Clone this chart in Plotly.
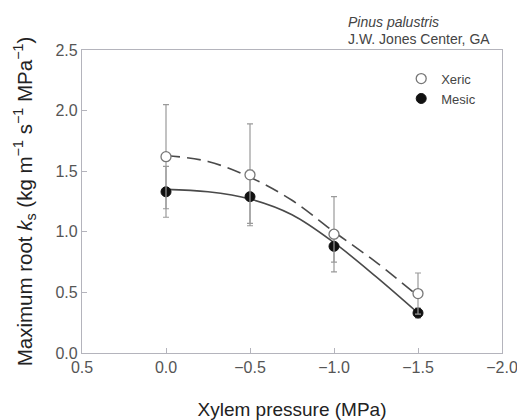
import plotly.graph_objects as go

# Observed data
pressure = [0.0, -0.5, -1.0, -1.5]
xeric = [1.62, 1.47, 0.98, 0.49]
xeric_err = [0.43, 0.42, 0.31, 0.17]
mesic = [1.33, 1.29, 0.88, 0.33]
mesic_err = [0.21, 0.22, 0.13, 0.04]

# Fitted curves
fit_x = [0.0, -0.25, -0.5, -0.75, -1.0, -1.25, -1.5]
xeric_fit = [1.63, 1.58, 1.45, 1.26, 1.00, 0.75, 0.47]
mesic_fit = [1.35, 1.33, 1.27, 1.14, 0.91, 0.63, 0.33]

x_ticks = [0.5, 0.0, -0.5, -1.0, -1.5, -2.0]
x_ticklabels = ["0.5", "0.0", "\u22120.5", "\u22121.0", "\u22121.5", "\u22122.0"]
y_ticks = [0.0, 0.5, 1.0, 1.5, 2.0, 2.5]
y_ticklabels = ["0.0", "0.5", "1.0", "1.5", "2.0", "2.5"]

FONT = "Liberation Sans, Arial, sans-serif"
LINE = "#4a4a4a"
ERR = "#9a9a9a"
FRAME = "#b4b4bc"

fig = go.Figure()

fig.add_trace(go.Scatter(x=fit_x, y=xeric_fit, mode="lines", line=dict(color=LINE, width=1.6, dash="14px,7px", shape="spline", smoothing=1.0), showlegend=False, hoverinfo="skip"))
fig.add_trace(go.Scatter(x=fit_x, y=mesic_fit, mode="lines", line=dict(color=LINE, width=1.6, shape="spline", smoothing=1.0), showlegend=False, hoverinfo="skip"))

fig.add_trace(go.Scatter(x=pressure, y=mesic, mode="markers", name="Mesic",
                         error_y=dict(type="data", array=mesic_err, color=ERR, thickness=1.2, width=3),
                         marker=dict(symbol="circle", size=10, color="#111111", line=dict(color="#111111", width=1)),
                         showlegend=False))
fig.add_trace(go.Scatter(x=pressure, y=xeric, mode="markers", name="Xeric",
                         error_y=dict(type="data", array=xeric_err, color=ERR, thickness=1.2, width=3),
                         marker=dict(symbol="circle", size=10, color="white", line=dict(color="#777777", width=1.3)),
                         showlegend=False))

# legend entries
fig.add_trace(go.Scatter(x=[None], y=[None], mode="markers", name="Xeric",
                         marker=dict(symbol="circle", size=10, color="white", line=dict(color="#777777", width=1.3))))
fig.add_trace(go.Scatter(x=[None], y=[None], mode="markers", name="Mesic",
                         marker=dict(symbol="circle", size=10, color="#111111", line=dict(color="#111111", width=1))))

axis_common = dict(showline=True, mirror=True, linecolor=FRAME, linewidth=1.2, ticks="inside",
                   tickcolor=FRAME, ticklen=5, showgrid=False, zeroline=False,
                   ticklabeloverflow="allow", automargin=False,
                   tickfont=dict(family=FONT, size=16, color="#555555"))

fig.update_xaxes(range=[0.5, -2.0], tickvals=x_ticks, ticktext=x_ticklabels,
                 title=dict(text="Xylem pressure (MPa)", font=dict(family=FONT, size=19, color="#222222"), standoff=27),
                 **axis_common)
fig.update_yaxes(range=[0, 2.5], tickvals=y_ticks, ticktext=y_ticklabels,
                 title=dict(text="Maximum root <i>k</i><sub>s</sub> (kg m<sup>\u22121</sup> s<sup>\u22121</sup> MPa<sup>\u22121</sup>)",
                            font=dict(family=FONT, size=20.5, color="#222222"), standoff=17),
                 **axis_common)

fig.add_annotation(text="<i>Pinus palustris</i>", xref="paper", yref="paper", x=(346 - 82) / 420, y=1 + (50 - 22) / 303,
                   xanchor="left", yanchor="middle", showarrow=False, font=dict(family=FONT, size=14, color="#444444"))
fig.add_annotation(text="J.W. Jones Center, GA", xref="paper", yref="paper", x=(346 - 82) / 420, y=1 + (50 - 39) / 303,
                   xanchor="left", yanchor="middle", showarrow=False, font=dict(family=FONT, size=14, color="#444444"))

fig.update_layout(
    width=517, height=420,
    margin=dict(l=82, r=15, t=50, b=67),
    paper_bgcolor="white", plot_bgcolor="white",
    font=dict(family=FONT),
    legend=dict(x=0.76, y=0.955, xanchor="left", yanchor="top", bgcolor="rgba(0,0,0,0)",
                font=dict(family=FONT, size=13, color="#444444"), tracegroupgap=0),
)

fig.write_html("out.html")
